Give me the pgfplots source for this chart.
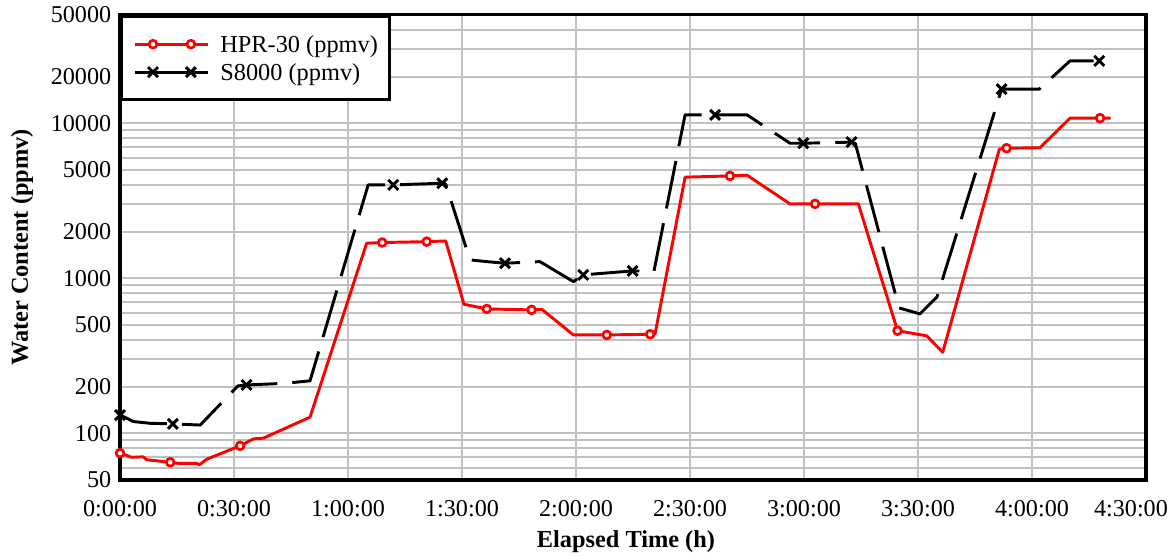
\documentclass[border=0pt]{standalone}
\usepackage{fontspec}
\setmainfont{Liberation Serif}
\usepackage{pgfplots}
\pgfplotsset{compat=1.18}
\definecolor{gridgray}{RGB}{192,192,192}
\begin{document}
\begin{tikzpicture}
\useasboundingbox (-61.4bp,-38.4bp) rectangle (538.6bp,245.5bp);
\begin{axis}[
  at={(0,0)}, anchor=south west,
  scale only axis, width=524.8bp, height=237.9bp,
  xmin=0, xmax=270, ymin=50, ymax=50000, ymode=log,
  xtick={0,30,...,270},
  xticklabels={0:00:00,0:30:00,1:00:00,1:30:00,2:00:00,2:30:00,3:00:00,3:30:00,4:00:00,\hspace*{-15.4bp}4:30:00},
  ytick={50,100,200,500,1000,2000,5000,10000,20000,50000},
  yticklabels={50,100,200,500,1000,2000,5000,10000,20000,50000},
  minor ytick={60,70,80,90,300,400,600,700,800,900,3000,4000,6000,7000,8000,9000,30000,40000},
  grid=both,
  major grid style={gridgray, line width=1bp},
  minor grid style={gridgray, line width=1bp},
  major tick length=0pt, minor tick length=0pt,
  axis line style={line width=1.6bp},
  tick label style={font=\fontsize{12.4}{14}\selectfont},
  xticklabel style={yshift=-7bp},
  yticklabel style={xshift=-1bp},
  xlabel={Elapsed Time (h)},
  ylabel={Water Content (ppmv)},
  label style={font=\fontsize{12.5}{15}\selectfont\bfseries},
  xlabel style={at={(axis description cs:0.4931,-0.1463)}, anchor=base},
  ylabel style={at={(axis description cs:-0.0955,0.5)}, anchor=center},
  legend cell align=left,
  legend style={at={(axis description cs:0,1)}, anchor=north west, draw=black, line width=1.6bp, fill=white,
    font=\fontsize{12.5}{15}\selectfont, inner xsep=6.1bp, inner ysep=8.2bp, column sep=5.6bp, row sep=2.3bp,
    nodes={inner xsep=0pt, inner ysep=0pt, text height=10.5bp, text depth=1.5bp}},
  legend image code/.code={\draw[#1, mark indices={2,3}, solid] plot coordinates {(0bp,0bp)(9.2bp,0bp)(28.6bp,0bp)(37.3bp,0bp)};},
]
\addplot[red, line width=1.5bp, line join=round, mark=*, mark size=2bp,
  mark options={solid, fill=white, draw=red, line width=1.4bp},
  mark indices={1,5,10,15,16,19,20,23,24,27,30,32,36,39}] coordinates {
(0,74.5) (3.1,70) (6.1,70.5) (7.0,67.5) (13.2,65) (15.3,64) (20.2,64) (20.9,62.5) (22.8,68)
(31.6,83) (35.1,92) (37.7,93) (50,127) (64.9,1683) (69.0,1700) (80.7,1722) (85.7,1740)
(90.5,680) (96.5,634) (108.3,625) (111,630) (119.3,431) (128.1,431) (139.5,435) (140.8,437)
(148.7,4487) (160.5,4571) (165,4620) (176.3,3019) (182.9,3019) (194.3,3019) (204.6,459)
(212.3,425) (216.5,333) (231.4,6800) (233.3,6900) (242.1,6950) (250,10780) (257.9,10780) (260.7,10780)
};
\addlegendentry{HPR-30 (ppmv)}
\addplot[black, line width=1.5bp, line join=round, dash pattern=on 24.8bp off 7.7bp,
  mark=x, mark size=3.6bp, mark options={solid, line width=1.5bp},
  mark indices={1,5,8,12,13,17,20,21,24,27,28,33,36}] coordinates {
(0,131) (1.8,125) (3.5,119) (7.9,116) (13.9,115) (21.1,113) (31,202) (33.3,205) (43.4,210)
(50,218) (65.3,4000) (71.9,4000) (84.8,4100) (85.7,4050) (92.1,1313) (96.5,1280) (101.3,1250)
(110.5,1280) (119.3,951) (121.9,1052) (134.9,1115) (140.5,1110) (148.7,11320) (156.6,11320)
(165,11320) (176.3,7430) (179.8,7430) (192.5,7550) (193.5,7400) (205,644) (210.5,589)
(215,758) (232,16590) (241.9,16590) (250,25240) (257.7,25240)
};
\addlegendentry{S8000 (ppmv)}
\end{axis}
\end{tikzpicture}
\end{document}
